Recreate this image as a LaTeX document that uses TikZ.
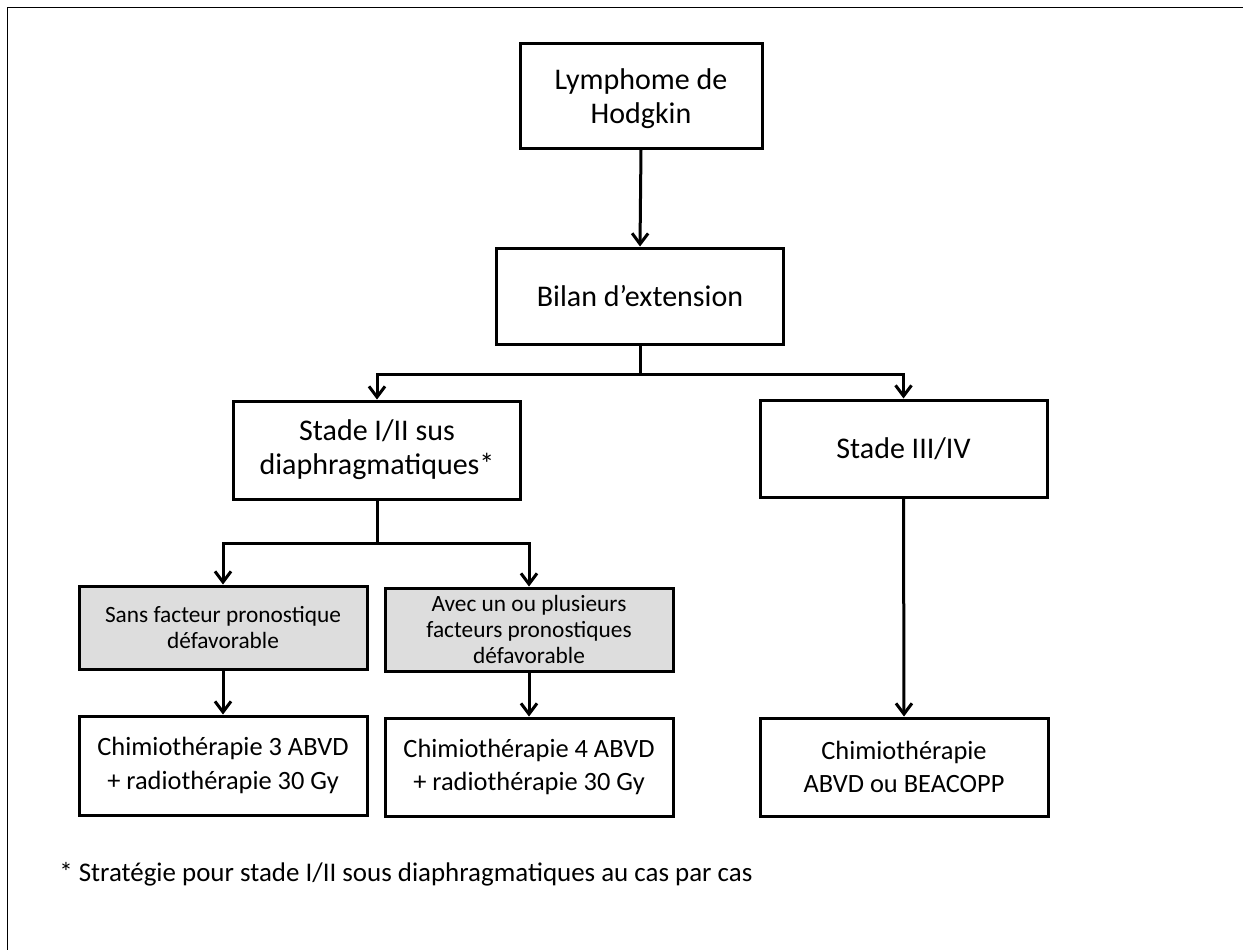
\documentclass[tikz,border=0pt]{standalone}
\usepackage{fontspec}
\setmainfont{Carlito}
\usetikzlibrary{arrows.meta}
\definecolor{boxgray}{RGB}{221,221,221}
\begin{document}
\begin{tikzpicture}[x=0.75pt,y=-0.75pt,
  boxbase/.style={draw, line width=2.25pt, align=center, inner sep=0pt},
  topbox/.style={boxbase, font=\fontsize{22.5}{25.7}\selectfont},
  chimbox/.style={boxbase, font=\fontsize{19.8}{25}\selectfont, minimum width=216pt, minimum height=73.5pt},
  graybox/.style={boxbase, fill=boxgray, font=\fontsize{17.5}{19.5}\selectfont, minimum width=216pt, minimum height=62.25pt},
  conn/.style={line width=2.25pt},
  arr/.style={conn, -{Straight Barb[length=8pt,width=12pt]}}]
\useasboundingbox (0,0) rectangle (1243,950);
\fill[white] (0,0) rectangle (1243,950);
% frame
\draw[line width=0.8pt] (7.3,950) -- (7.3,7.3) -- (1243,7.3);

\node[topbox, minimum width=181.5pt, minimum height=78.75pt] (lym) at (641,95.5) {\rule{0pt}{20pt}Lymphome de\\Hodgkin};
\node[topbox, minimum width=215.25pt, minimum height=72pt] (bilan) at (640,296) {Bilan d’extension};
\node[topbox, minimum width=215.25pt, minimum height=73.5pt] (s12) at (377,450) {Stade I/II sus\\diaphragmatiques*};
\node[topbox, minimum width=215.25pt, minimum height=72.75pt] (s34) at (903.5,448.5) {Stade III/IV};

\node[graybox] (sans) at (223,627.5) {Sans facteur pronostique\\défavorable};
\node[graybox] (avec) at (529,629.5) {Avec un ou plusieurs\\facteurs pronostiques\\défavorable};

\node[chimbox, minimum height=74.25pt] (c3) at (223,765.5) {Chimiothérapie 3 ABVD\\+ radiothérapie 30 Gy};
\node[chimbox] (c4) at (529,767) {Chimiothérapie 4 ABVD\\+ radiothérapie 30 Gy};
\node[chimbox] (cb) at (904,767) {Chimiothérapie\\ABVD ou BEACOPP};

\node[anchor=base west, inner sep=0pt, font=\fontsize{20.2}{24}\selectfont] (note) at (59,881)
  {* Stratégie pour stade I/II sous diaphragmatiques au cas par cas};

\coordinate (j1) at (640,374);
\coordinate (j2) at (377,543);

\draw[arr] (lym.south) -- (bilan.north);
\draw[conn] (bilan.south) -- (j1);
\draw[arr] (j1) -| (s12.north);
\draw[arr] (j1) -| (s34.north);
\draw[conn] (s12.south) -- (j2);
\draw[arr] (j2) -| (sans.north);
\draw[arr] (j2) -| (avec.north);
\draw[arr] (sans.south) -- (c3.north);
\draw[arr] (avec.south) -- (c4.north);
\draw[arr] (s34.south) -- (cb.north);
\end{tikzpicture}
\end{document}
